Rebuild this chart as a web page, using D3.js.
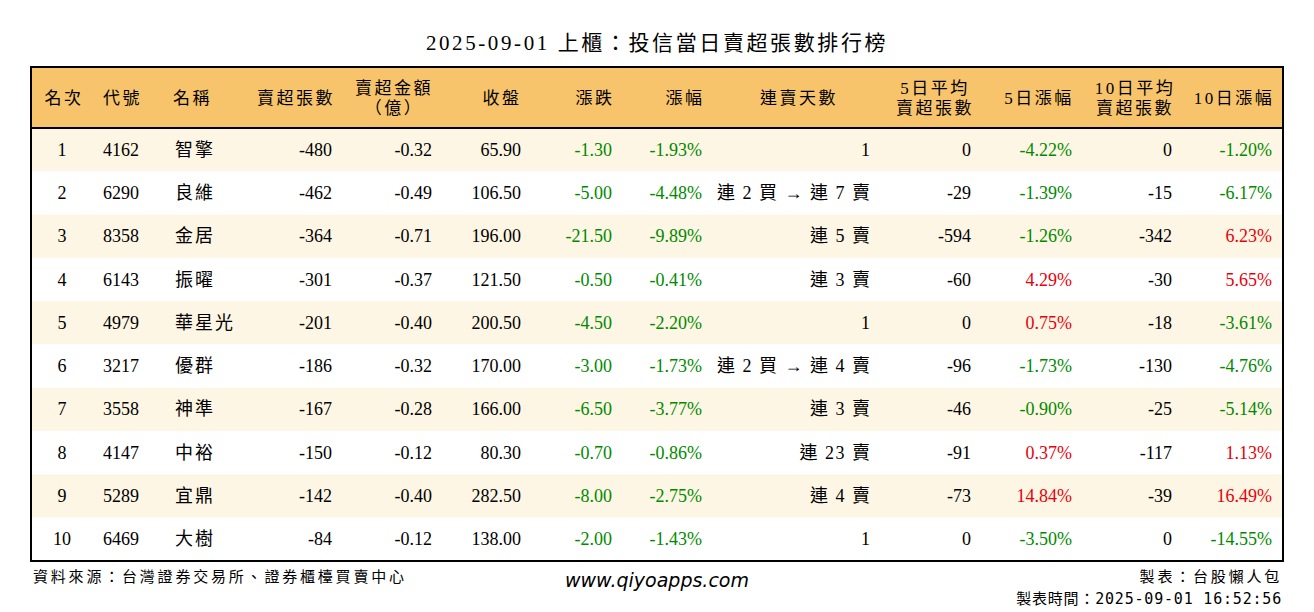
<!DOCTYPE html>
<html><head><meta charset="utf-8">
<script src="https://cdn.jsdelivr.net/npm/d3@7"></script>
<style>body{margin:0;background:#fff}svg{display:block}</style>
</head><body><svg id="c" width="1314" height="612"></svg>
<script>
const title = "2025-09-01 上櫃：投信當日賣超張數排行榜";
const headers = [["名次"],["代號"],["名稱"],["賣超張數"],["賣超金額","（億）"],["收盤"],["漲跌"],["漲幅"],["連賣天數"],["5日平均","賣超張數"],["5日漲幅"],["10日平均","賣超張數"],["10日漲幅"]];
const ranks = [1,2,3,4,5,6,7,8,9,10];
const codes = ["4162","6290","8358","6143","4979","3217","3558","4147","5289","6469"];
const names = ["智擎","良維","金居","振曜","華星光","優群","神準","中裕","宜鼎","大樹"];
const netSell = [-480,-462,-364,-301,-201,-186,-167,-150,-142,-84];
const amount = [-0.32,-0.49,-0.71,-0.37,-0.40,-0.32,-0.28,-0.12,-0.40,-0.12];
const close = [65.90,106.50,196.00,121.50,200.50,170.00,166.00,80.30,282.50,138.00];
const change = [-1.30,-5.00,-21.50,-0.50,-4.50,-3.00,-6.50,-0.70,-8.00,-2.00];
const pct = [-1.93,-4.48,-9.89,-0.41,-2.20,-1.73,-3.77,-0.86,-2.75,-1.43];
const streak = ["1","連 2 買 → 連 7 賣","連 5 賣","連 3 賣","1","連 2 買 → 連 4 賣","連 3 賣","連 23 賣","連 4 賣","1"];
const avg5 = [0,-29,-594,-60,0,-96,-46,-91,-73,0];
const pct5 = [-4.22,-1.39,-1.26,4.29,0.75,-1.73,-0.90,0.37,14.84,-3.50];
const avg10 = [0,-15,-342,-30,-18,-130,-25,-117,-39,0];
const pct10 = [-1.20,-6.17,6.23,5.65,-3.61,-4.76,-5.14,1.13,16.49,-14.55];

const svg = d3.select("#c");
const font = "'Liberation Serif','Noto Sans CJK TC',serif";
const X0=31, X1=1283, HT=67, HB=128, RH=43.3;
const y = d3.scaleBand().domain(ranks).range([HB, HB+RH*10]);
const green="#008a00", red="#e8000b";
const col = v => v<0?green:(v>0?red:"#000");
const cols = [
 {x:62,a:"middle",hx:64,ha:"middle",v:i=>ranks[i]},
 {x:103,a:"start",hx:103,ha:"start",v:i=>codes[i]},
 {x:173,a:"start",hx:173,ha:"start",v:i=>names[i],ls:2},
 {x:332,a:"end",hx:335,ha:"end",v:i=>netSell[i]},
 {x:432,a:"end",hx:394,ha:"middle",v:i=>amount[i].toFixed(2)},
 {x:521,a:"end",hx:502,ha:"middle",v:i=>close[i].toFixed(2)},
 {x:612,a:"end",hx:595,ha:"middle",v:i=>change[i].toFixed(2),c:i=>col(change[i])},
 {x:702,a:"end",hx:685,ha:"middle",v:i=>pct[i].toFixed(2)+"%",c:i=>col(pct[i])},
 {x:870,a:"end",hx:799,ha:"middle",v:i=>streak[i],ls:1.5},
 {x:971,a:"end",hx:935,ha:"middle",v:i=>avg5[i]},
 {x:1072,a:"end",hx:1039,ha:"middle",v:i=>pct5[i].toFixed(2)+"%",c:i=>col(pct5[i])},
 {x:1172,a:"end",hx:1135,ha:"middle",v:i=>avg10[i]},
 {x:1272,a:"end",hx:1234,ha:"middle",v:i=>pct10[i].toFixed(2)+"%",c:i=>col(pct10[i])},
];
svg.append("text").attr("x",657).attr("y",50).attr("text-anchor","middle").attr("font-family",font).attr("font-size",21).attr("letter-spacing",2.6).text(title);
svg.append("rect").attr("x",X0).attr("y",HT).attr("width",X1-X0).attr("height",HB-HT).attr("fill","#f7c46c");
svg.selectAll(".row").data(ranks).join("rect").attr("x",X0).attr("y",d=>y(d)).attr("width",X1-X0).attr("height",y.bandwidth())
 .attr("fill",(d,i)=>i%2==0?"#fef6e4":"#fff");
headers.forEach((h,j)=>{
  const c=cols[j];
  const t=svg.append("text").attr("font-family",font).attr("font-size",17).attr("letter-spacing",2.5).attr("text-anchor",c.ha);
  if(h.length==1) t.append("tspan").attr("x",c.hx).attr("y",104).text(h[0]);
  else { t.append("tspan").attr("x",c.hx).attr("y",94).text(h[0]); t.append("tspan").attr("x",c.hx).attr("y",114).text(h[1]); }
});
ranks.forEach((r,i)=>{
  cols.forEach(c=>{
    svg.append("text").attr("x",c.x+(c.ls||0)).attr("y",y(r)+y.bandwidth()/2+6).attr("text-anchor",c.a)
     .attr("letter-spacing",c.ls||0)
     .attr("font-family",font).attr("font-size",18).attr("fill",c.c?c.c(i):"#000").text(c.v(i));
  });
});
svg.append("line").attr("x1",X0).attr("x2",X1).attr("y1",HB).attr("y2",HB).attr("stroke","#000").attr("stroke-width",2);
svg.append("rect").attr("x",X0).attr("y",HT).attr("width",X1-X0).attr("height",HB+RH*10-HT).attr("fill","none").attr("stroke","#000").attr("stroke-width",2);
svg.append("text").attr("x",33).attr("y",582).attr("font-family",font).attr("font-size",15).attr("letter-spacing",2.8).text("資料來源：台灣證券交易所、證券櫃檯買賣中心");
svg.append("text").attr("x",657).attr("y",587).attr("text-anchor","middle").attr("font-family","'DejaVu Sans',sans-serif").attr("font-style","italic").attr("font-size",19).text("www.qiyoapps.com");
svg.append("text").attr("x",1282).attr("y",582).attr("text-anchor","end").attr("font-family",font).attr("font-size",15).attr("letter-spacing",2.8).text("製表：台股懶人包");
svg.append("text").attr("x",1282).attr("y",604).attr("text-anchor","end").attr("font-family","'DejaVu Sans Mono','Noto Sans CJK TC',monospace").attr("font-size",15).attr("letter-spacing",0.8).text("製表時間：2025-09-01 16:52:56");
</script></body></html>
